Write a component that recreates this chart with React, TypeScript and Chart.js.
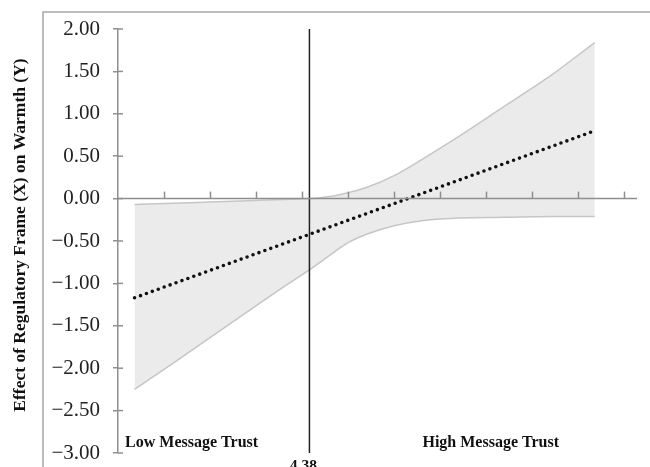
import React, { useEffect, useRef } from "react";
import { Chart, registerables } from "chart.js";

Chart.register(...registerables);

// ---- data ----
const MODERATOR = [2.48, 2.9, 3.3, 3.7, 4.1, 4.38, 4.6, 4.8, 5.0, 5.3, 5.6, 6.0, 6.5, 7.0, 7.48];
const CI_UPPER = [-0.07, -0.055, -0.04, -0.025, -0.01, 0.0, 0.025, 0.07, 0.13, 0.27, 0.46, 0.73, 1.09, 1.45, 1.84];
const CI_LOWER = [-2.25, -1.94, -1.64, -1.34, -1.04, -0.84, -0.67, -0.52, -0.42, -0.32, -0.26, -0.23, -0.22, -0.21, -0.21];
const EFFECT_X = [2.48, 7.48];
const EFFECT_Y = [-1.17, 0.8];
const JN_POINT = 4.38;
const JN_LABEL = "4.38";
const Y_TICKS = [-3, -2.5, -2, -1.5, -1, -0.5, 0, 0.5, 1, 1.5, 2];
const X_TICKS = [2.8, 3.3, 3.8, 4.3, 4.8, 5.3, 5.8, 6.3, 6.8, 7.3, 7.8];
const X_MIN = 2.3;
const X_MAX = 7.95;
const REGION_LABELS = ["Low Message Trust", "High Message Trust"];
const Y_TITLE = "Effect of Regulatory Frame (X) on Warmth (Y)";

const SERIF = '"Liberation Serif", "Times New Roman", serif';

const fmt = (v: number) => (v < 0 ? "\u2212" + Math.abs(v).toFixed(2) : v.toFixed(2));

const decorations = {
  id: "decorations",
  beforeDraw(chart: any) {
    const ctx = chart.ctx;
    ctx.save();
    ctx.fillStyle = "#ffffff";
    ctx.fillRect(0, 0, chart.width, chart.height);
    // outer frame
    ctx.strokeStyle = "#a6a6a6";
    ctx.lineWidth = 1.5;
    ctx.beginPath();
    ctx.moveTo(43, chart.height + 5);
    ctx.lineTo(43, 12);
    ctx.lineTo(chart.width + 5, 12);
    ctx.stroke();
    // y-axis title
    ctx.translate(20, 235);
    ctx.rotate(-Math.PI / 2);
    ctx.fillStyle = "#111111";
    ctx.textAlign = "center";
    ctx.textBaseline = "middle";
    ctx.font = "bold 17.5px " + SERIF;
    ctx.fillText(Y_TITLE, 0, 0);
    ctx.restore();
  },
  afterDatasetsDraw(chart: any) {
    const ctx = chart.ctx;
    const xs = chart.scales.x;
    const ys = chart.scales.y;
    const area = chart.chartArea;
    const y0 = ys.getPixelForValue(0);
    ctx.save();
    ctx.strokeStyle = "#8f8f8f";
    ctx.lineWidth = 1.5;
    // horizontal axis at y = 0
    ctx.beginPath();
    ctx.moveTo(area.left, y0);
    ctx.lineTo(area.right - 1, y0);
    ctx.stroke();
    // x tick marks (upward)
    X_TICKS.forEach((v) => {
      const px = Math.round(xs.getPixelForValue(v)) + 0.5;
      ctx.beginPath();
      ctx.moveTo(px, y0);
      ctx.lineTo(px, y0 - 7);
      ctx.stroke();
    });
    // inner half of y tick marks
    Y_TICKS.forEach((v) => {
      const py = ys.getPixelForValue(v);
      ctx.beginPath();
      ctx.moveTo(area.left, py);
      ctx.lineTo(area.left + 5, py);
      ctx.stroke();
    });
    ctx.restore();
  },
  afterDraw(chart: any) {
    const ctx = chart.ctx;
    const xs = chart.scales.x;
    const ys = chart.scales.y;
    ctx.save();
    ctx.fillStyle = "#111111";
    ctx.textAlign = "center";
    ctx.textBaseline = "middle";
    ctx.font = "bold 16px " + SERIF;
    ctx.fillText(REGION_LABELS[0], xs.getPixelForValue(3.1), ys.getPixelForValue(-2.88));
    ctx.fillText(REGION_LABELS[1], xs.getPixelForValue(6.35), ys.getPixelForValue(-2.88));
    ctx.font = "bold 15.5px " + SERIF;
    ctx.textBaseline = "top";
    ctx.fillText(JN_LABEL, xs.getPixelForValue(JN_POINT) - 6, ys.getPixelForValue(-3) + 5);
    ctx.restore();
  },
};

export default function App() {
  const ref = useRef<HTMLCanvasElement | null>(null);

  useEffect(() => {
    if (!ref.current) return;
    const chart = new Chart(ref.current, {
      type: "line",
      data: {
        datasets: [
          {
            label: "upper",
            data: MODERATOR.map((x, i) => ({ x, y: CI_UPPER[i] })),
            borderColor: "#c6c6c6",
            borderWidth: 1.5,
            backgroundColor: "#ebebeb",
            fill: "+1",
            pointRadius: 0,
            cubicInterpolationMode: "monotone",
            order: 3,
          },
          {
            label: "lower",
            data: MODERATOR.map((x, i) => ({ x, y: CI_LOWER[i] })),
            borderColor: "#c6c6c6",
            borderWidth: 1.5,
            fill: false,
            pointRadius: 0,
            cubicInterpolationMode: "monotone",
            order: 2,
          },
          {
            label: "jn",
            data: [
              { x: JN_POINT, y: Y_TICKS[0] },
              { x: JN_POINT, y: Y_TICKS[Y_TICKS.length - 1] },
            ],
            borderColor: "#222222",
            borderWidth: 1.5,
            pointRadius: 0,
            fill: false,
            order: 1,
          },
          {
            label: "effect",
            data: EFFECT_X.map((x, i) => ({ x, y: EFFECT_Y[i] })),
            borderColor: "#111111",
            borderWidth: 3.6,
            borderDash: [0, 6.3],
            borderCapStyle: "round",
            pointRadius: 0,
            fill: false,
            order: 0,
          },
        ],
      },
      options: {
        animation: false,
        responsive: false,
        devicePixelRatio: 1,
        layout: { padding: { left: 0, right: 12, top: 29, bottom: 14 } },
        plugins: { legend: { display: false }, tooltip: { enabled: false } },
        scales: {
          x: { type: "linear", min: X_MIN, max: X_MAX, display: false },
          y: {
            type: "linear",
            min: Y_TICKS[0],
            max: Y_TICKS[Y_TICKS.length - 1],
            afterBuildTicks: (scale: any) => {
              scale.ticks = Y_TICKS.map((v) => ({ value: v }));
            },
            afterFit: (scale: any) => {
              scale.width = 118;
              scale.paddingTop = 0;
              scale.paddingBottom = 0;
            },
            ticks: {
              callback: (v: any) => fmt(Number(v)),
              font: { family: SERIF, size: 21 },
              color: "#222222",
              padding: 13,
            },
            grid: {
              display: true,
              drawOnChartArea: false,
              drawTicks: true,
              tickLength: 5,
              color: "#8f8f8f",
              lineWidth: 1.5,
            },
            border: { display: true, color: "#8f8f8f", width: 1.5 },
            title: { display: false },
          },
        },
      },
      plugins: [decorations],
    } as any);
    return () => chart.destroy();
  }, []);

  return (
    <div style={{ position: "absolute", left: 0, top: 0, width: 650, height: 467 }}>
      <canvas ref={ref} width={650} height={467} style={{ display: "block" }} />
    </div>
  );
}
